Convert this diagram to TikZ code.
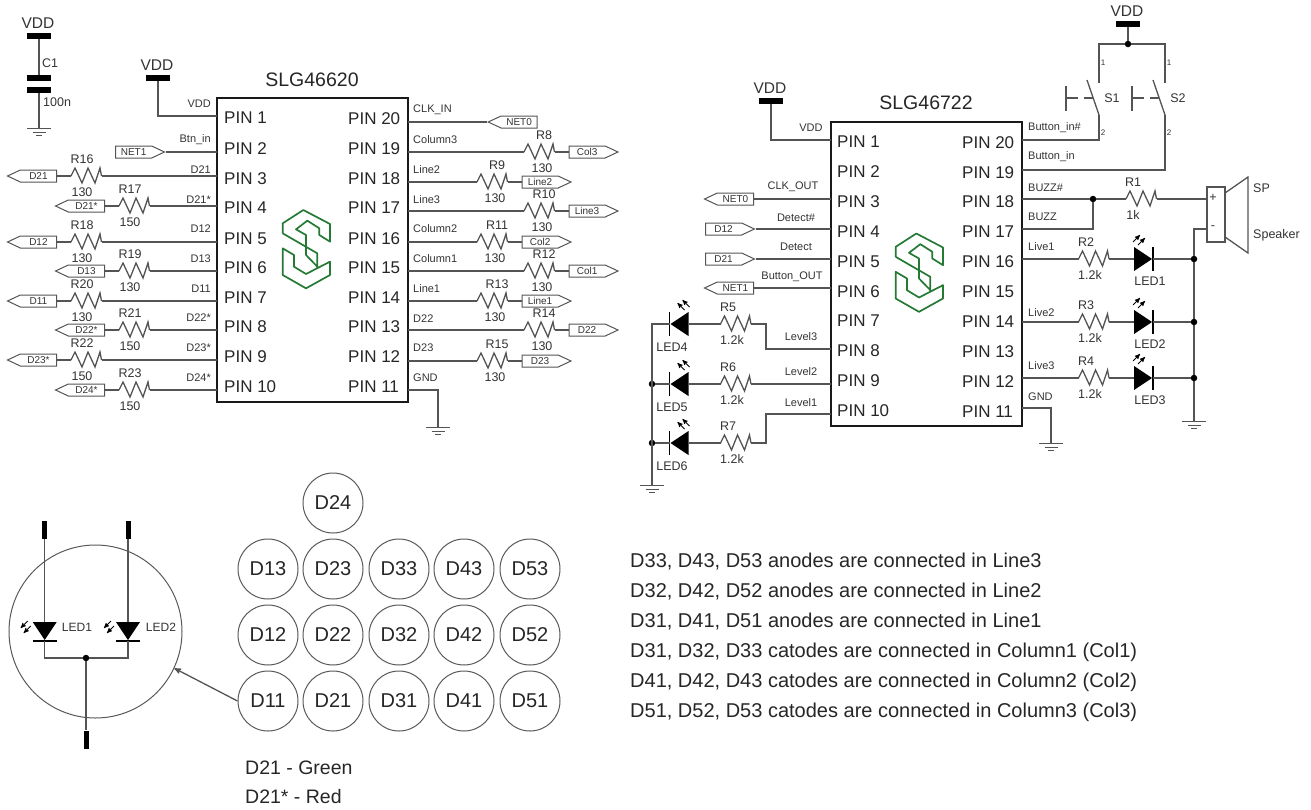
\documentclass[tikz,border=0pt]{standalone}
\usepackage{fontspec}
\setmainfont{Liberation Sans}
\usepackage{tikz}
\usetikzlibrary{arrows,positioning,shapes.symbols}
\definecolor{wirecol}{gray}{0.33}
\definecolor{textcol}{gray}{0.2}
\definecolor{logocol}{RGB}{36,122,52}
\tikzset{
    %Define standard arrow tip
    >=stealth',
    %Define style for connectors
    wire/.style={
           draw=wirecol,
           line width=1.3pt,
           line join=miter},
    %Define styles for texts
    pinlab/.style={
           anchor=west,
           inner sep=0pt,
           text=black!85,
           font=\fontsize{17}{19}\selectfont},
    wirelab/.style={
           inner sep=0pt,
           text=textcol,
           font=\fontsize{11}{13}\selectfont},
    val/.style={
           inner sep=0pt,
           text=textcol,
           font=\fontsize{12.5}{14}\selectfont},
    title/.style={
           inner sep=0pt,
           text=black!85,
           font=\fontsize{19.5}{22}\selectfont},
    note/.style={
           anchor=west,
           inner sep=0pt,
           text=black!85,
           font=\fontsize{20}{22}\selectfont},
    %Define styles for boxes
    chip/.style={
           rectangle,
           draw=black!90,
           line width=2.2pt,
           inner sep=0pt},
    tagl/.style={
           signal,
           signal to=west,
           signal pointer angle=50,
           draw=wirecol,
           line width=1pt,
           minimum width=49pt,
           minimum height=12pt,
           inner sep=0pt,
           text=textcol,
           font=\fontsize{10}{11}\selectfont},
    tagr/.style={
           tagl,
           signal to=east},
    led/.style={
           circle,
           draw=black!65,
           line width=1pt,
           minimum size=60pt,
           inner sep=0pt,
           text=black!85,
           font=\fontsize{20}{22}\selectfont},
    dot/.style={
           circle,
           fill=black,
           minimum size=6.5pt,
           inner sep=0pt},
    padh/.style={
           rectangle,
           fill=black,
           minimum width=24pt,
           minimum height=6pt,
           inner sep=0pt},
    padv/.style={
           rectangle,
           fill=black,
           minimum width=5pt,
           minimum height=18pt,
           inner sep=0pt},
    %Define the parts
    pics/res/.style n args={4}{code={
           \draw[wire] (-15,0) -- (-11,-8) -- (-4,7) -- (2,-8) -- (9,7) -- (14,-8) -- (15.5,0);
           \coordinate (-l) at (-15,0);
           \coordinate (-r) at (15.5,0);
           \node[val] (-name) at (#3,-17) {#1};
           \node[val] (-value) at (#4,16) {#2};
    }},
    pics/diode/.style={code={
           \fill[black] (-9,-12) -- (-9,12) -- (9,0) -- cycle;
           \draw[black,line width=1.5pt] (10,-12) -- (10,12);
           \draw[black,line width=.9pt,->] (-10,-17) -- (-3,-24);
           \draw[black,line width=.9pt,->] (-5,-14) -- (2,-21);
           \coordinate (-a) at (-9,0);
           \coordinate (-k) at (10,0);
    }},
    pics/gnd/.style={code={
           \draw[wire,line width=1pt] (-12,0) -- (12,0) (-6.5,4) -- (6.5,4) (-3,7) -- (3,7);
           \coordinate (-t) at (0,0);
    }},
    pics/vdd/.style={code={
           \node[padh] (-pad) at (0,3) {};
           \node[val,font=\fontsize{15.5}{18}\selectfont] (-text) at (-1,-10) {VDD};
           \coordinate (-w) at (0,6);
    }},
    pics/sw/.style={code={
           \draw[wire] (0,16) -- (-12,-19);
           \draw[wire] (-33,-13) -- (-33,12) (-33,-1) -- (-21,-1) (-15,-1) -- (-6,-1);
           \node[val] (-name) at (13,-1) {#1};
           \node[wirelab,font=\fontsize{8}{9}\selectfont] (-one) at (4,-36) {1};
           \node[wirelab,font=\fontsize{8}{9}\selectfont] (-two) at (4,34) {2};
           \coordinate (-t) at (0,-16);
           \coordinate (-b) at (0,16);
    }},
    pics/logo/.style={code={
           \draw[logocol,line width=1.7pt,line join=round,scale=1/3]
                 (38,100) -- (38,70) -- (100,30) -- (180,72) -- (180,125) -- (148,105) -- (148,85)
                 -- (112,62) -- (78,88) -- (108,105) -- (108,165) -- (142,200)
                 (38,100) -- (142,160) -- (142,205)
                 (180,185) -- (108,222) -- (72,200) -- (72,165) -- (38,145) -- (38,225)
                 -- (108,265) -- (180,225) -- cycle;
    }}
}

\begin{document}
\begin{tikzpicture}[x=1pt,y=-1pt]
\useasboundingbox (0,0) rectangle (1311,809);

% decoupling capacitor
\pic (vddA) at (39,33) {vdd};
\node[padh] (c1a) at (39,78) {};
\node[padh] (c1b) at (39,90) {};
\pic (gA) at (39,128) {gnd};
\node[val,anchor=west] (c1name) at (42,63) {C1};
\node[val,anchor=west] (c1value) at (43,102) {100n};
\path[wire]
	(vddA-w) edge (c1a)
	(c1b) edge (gA-t);

% first chip
\node[chip,minimum width=191pt,minimum height=304pt] (chipA) at (312.5,250) {};
\node[title] (titleA) at (312,80) {SLG46620};
\pic at (270,200) {logo};
\foreach \i/\y in {1/118,2/149,3/179,4/208,5/239,6/268,7/298,8/327,9/357,10/387}
	\node[pinlab] (pa\i) at (224,\y) {PIN \i};
\foreach \i/\y in {20/119,19/149,18/179,17/208,16/239,15/268,14/298,13/327,12/357,11/387}
	\node[pinlab] (pa\i) at (348,\y) {PIN \i};
\foreach \i/\y/\t/\ly in {1/116/VDD/104,2/152/Btn\_in/140,3/176/D21/170,4/206/D21*/200,5/242/D12/229,6/271/D13/259,7/301/D11/289,8/330/D22*/318,9/360/D23*/348,10/390/D24*/378}{
	\coordinate (A\i) at (217,\y);
	\node[wirelab,anchor=east] (la\i) at (211,\ly) {\t};
}
\foreach \i/\y/\t/\ly in {20/122/CLK\_IN/110,19/152/Column3/140,18/182/Line2/170,17/211/Line3/200,16/242/Column2/229,15/271/Column1/259,14/301/Line1/289,13/330/D22/319,12/361/D23/348,11/390/GND/378}{
	\coordinate (A\i) at (408,\y);
	\node[wirelab,anchor=west] (la\i) at (413,\ly) {\t};
}
\pic (vddB) at (158,75) {vdd};
\draw[wire] (A1) -| (vddB-w);
\node[tagr,anchor=west] (tA2) at (115,152) {NET1};
\draw[wire] (tA2.east) -- (A2);
\foreach \n/\x/\y/\v/\i/\t in {16/86/176/130/3/D21,17/134/206/150/4/D21*,18/86/242/130/5/D12,19/134/271/130/6/D13,20/86/301/130/7/D11,21/134/330/150/8/D22*,22/86/360/150/9/D23*,23/134/390/150/10/D24*}{
	\pic (R\n) at (\x,\y) {res={R\n}{\v}{-4}{-4}};
	\node[tagl,left=14pt of R\n-l] (tA\i) {\t};
	\draw[wire] (A\i) -- (R\n-r) (R\n-l) -- (tA\i.east);
}
\node[tagl,anchor=west] (tA20) at (487,122) {NET0};
\draw[wire] (A20) -- (tA20.west);
\foreach \n/\x/\y/\i/\t in {8/539/152/19/Col3,9/492/182/18/Line2,10/539/211/17/Line3,11/492/242/16/Col2,12/539/271/15/Col1,13/492/301/14/Line1,14/539/330/13/D22,15/492/361/12/D23}{
	\pic (R\n) at (\x,\y) {res={R\n}{130}{5}{3}};
	\node[tagr,right=14pt of R\n-r] (tA\i) {\t};
	\draw[wire] (A\i) -- (R\n-l) (R\n-r) -- (tA\i.west);
}
\pic (gB) at (438,427) {gnd};
\draw[wire] (A11) -| (gB-t);

% second chip
\node[chip,minimum width=191pt,minimum height=304pt] (chipB) at (926.5,274) {};
\node[title] (titleB) at (926,103) {SLG46722};
\pic at (883,223.5) {logo};
\foreach \i/\y in {1/142,2/172,3/202,4/232,5/262,6/292,7/321,8/351,9/381,10/411}
	\node[pinlab] (pb\i) at (837,\y) {PIN \i};
\foreach \i/\y in {20/143,19/173,18/202,17/232,16/262,15/292,14/322,13/352,12/382,11/412}
	\node[pinlab] (pb\i) at (962,\y) {PIN \i};
\foreach \i/\y in {1/140,3/199,4/229,5/259,6/288,8/349,9/384,10/414}
	\coordinate (B\i) at (831,\y);
\foreach \i/\y in {20/140,19/170,18/199,17/229,16/259,14/322,12/378,11/408}
	\coordinate (B\i) at (1022,\y);
\foreach \i/\x/\y/\t in {1/811/128/VDD,3/793/187/CLK\_OUT,4/796/218/Detect\#,5/796/247/Detect,6/792/277/Button\_OUT,8/801/337/Level3,9/801/372/Level2,10/801/403/Level1}
	\node[wirelab] (lb\i) at (\x,\y) {\t};
\foreach \i/\y/\t in {20/128/Button\_in\#,19/157/Button\_in,18/188/BUZZ\#,17/217/BUZZ,16/247/Live1,14/313/Live2,12/366/Live3,11/397/GND}
	\node[wirelab,anchor=west] (lb\i) at (1028,\y) {\t};
\pic (vddC) at (771,98) {vdd};
\draw[wire] (B1) -| (vddC-w);
\node[tagl,anchor=east] (tB3) at (754,199) {NET0};
\node[tagr,anchor=west] (tB4) at (705,229) {D12};
\node[tagr,anchor=west] (tB5) at (705,259) {D21};
\node[tagl,anchor=east] (tB6) at (754,288) {NET1};
\path[wire]
	(B3) edge (tB3.east)
	(B4) edge (tB4.east)
	(B5) edge (tB5.east)
	(B6) edge (tB6.east);

% push buttons
\pic (vddD) at (1128,21) {vdd};
\node[dot] (dS) at (1128,44) {};
\pic (S1) at (1099,99) {sw=S1};
\pic (S2) at (1165,99) {sw=S2};
\draw[wire] (vddD-w) -- (dS);
\draw[wire] (S1-t) |- (dS);
\draw[wire] (S2-t) |- (dS);
\draw[wire] (B20) -| (S1-b);
\draw[wire] (B19) -| (S2-b);

% buzzer
\pic (R1) at (1141,199) {res={R1}{1k}{-8}{-8}};
\node[dot] (dB) at (1093,199) {};
\node[rectangle,draw=wirecol,line width=1.3pt,minimum width=18pt,minimum height=55pt,inner sep=0pt] (spbox) at (1216,214.5) {};
\node[val] (plus) at (1213,198) {+};
\node[val] (minus) at (1213,228) {-};
\draw[wire] (1225,193) -- (1248,177) -- (1248,253) -- (1225,237);
\node[val,anchor=west] (sp1) at (1253,188) {SP};
\node[val,anchor=west] (sp2) at (1253,235) {Speaker};
\coordinate (spp) at (1207,199);
\coordinate (spm) at (1207,229);
\draw[wire] (B18) -- (dB) -- (R1-l) (R1-r) -- (spp);
\draw[wire] (B17) -| (dB);

% output leds
\pic (gC) at (1194,421) {gnd};
\draw[wire] (spm) -| (gC-t);
\foreach \n/\y/\i/\l in {2/259/16/1,3/322/14/2,4/378/12/3}{
	\pic (R\n) at (1093.5,\y) {res={R\n}{1.2k}{-7.5}{-3.5}};
	\pic (LED\l) at (1143,\y) {diode};
	\node[val] (tL\l) at (1150,\y+22) {LED\l};
	\node[dot] (dL\l) at (1194,\y) {};
	\draw[wire] (B\i) -- (R\n-l) (R\n-r) -- (LED\l-a) (LED\l-k) -- (dL\l);
}
\pic (gD) at (1051,443) {gnd};
\draw[wire] (B11) -| (gD-t);

% level leds
\pic (gE) at (652,485) {gnd};
\foreach \n/\y/\l in {5/324/4,6/384/5,7/443/6}{
	\pic (R\n) at (735.5,\y) {res={R\n}{1.2k}{-7.5}{-3.5}};
	\pic[xscale=-1] (LED\l) at (679.5,\y) {diode};
	\node[val] (tL\l) at (672,\y+23) {LED\l};
	\draw[wire] (R\n-l) -- (LED\l-a);
}
\coordinate (jog5) at (766,349);
\coordinate (jog7) at (766,414);
\node[dot] (dL5) at (652,384) {};
\node[dot] (dL6) at (652,443) {};
\draw[wire] (B8) -- (jog5) |- (R5-r);
\draw[wire] (B9) -- (R6-r);
\draw[wire] (B10) -- (jog7) |- (R7-r);
\draw[wire] (LED4-k) -| (gE-t);
\draw[wire] (LED5-k) -- (dL5);
\draw[wire] (LED6-k) -- (dL6);

% led matrix
\node[led] (D24) at (333,503) {D24};
\foreach \c/\x in {1/268,2/333,3/399,4/464,5/530}
	\foreach \r/\y in {3/569,2/635,1/701}
		\node[led] (D\c\r) at (\x,\y) {D\c\r};

% inset
\node[circle,draw=black!65,line width=1pt,minimum size=173pt,inner sep=0pt] (bigcirc) at (95.5,631.5) {};
\node[padv] (pT1) at (44.7,530) {};
\node[padv] (pT2) at (128,530) {};
\node[padv] (pB) at (86,739.5) {};
\node[dot] (dI) at (86,658) {};
\pic[rotate=-90,yscale=-1] (iL1) at (44.7,631) {diode};
\pic[rotate=-90,yscale=-1] (iL2) at (128,631) {diode};
\node[val,font=\fontsize{12}{14}\selectfont] (tI1) at (77,627) {LED1};
\node[val,font=\fontsize{12}{14}\selectfont] (tI2) at (161,627) {LED2};
\draw[wire] (pT1) -- (iL1-a);
\draw[wire] (pT2) -- (iL2-a);
\draw[wire] (iL1-k) |- (dI);
\draw[wire] (iL2-k) |- (dI);
\draw[wire] (dI) -- (pB);
\draw[wire,->] (D11.west) -- (bigcirc.-25);

% notes
\node[note,font=\fontsize{19.5}{22}\selectfont] (cA) at (245,768) {D21 - Green};
\node[note,font=\fontsize{19.5}{22}\selectfont] (cB) at (245,797) {D21* - Red};
\foreach \y/\t [count=\k] in {562/{D33, D43, D53 anodes are connected in Line3},592/{D32, D42, D52 anodes are connected in Line2},622/{D31, D41, D51 anodes are connected in Line1},652/{D31, D32, D33 catodes are connected in Column1 (Col1)},682/{D41, D42, D43 catodes are connected in Column2 (Col2)},712/{D51, D52, D53 catodes are connected in Column3 (Col3)}}
	\node[note] (n\k) at (630,\y) {\t};
\end{tikzpicture}
\end{document}
